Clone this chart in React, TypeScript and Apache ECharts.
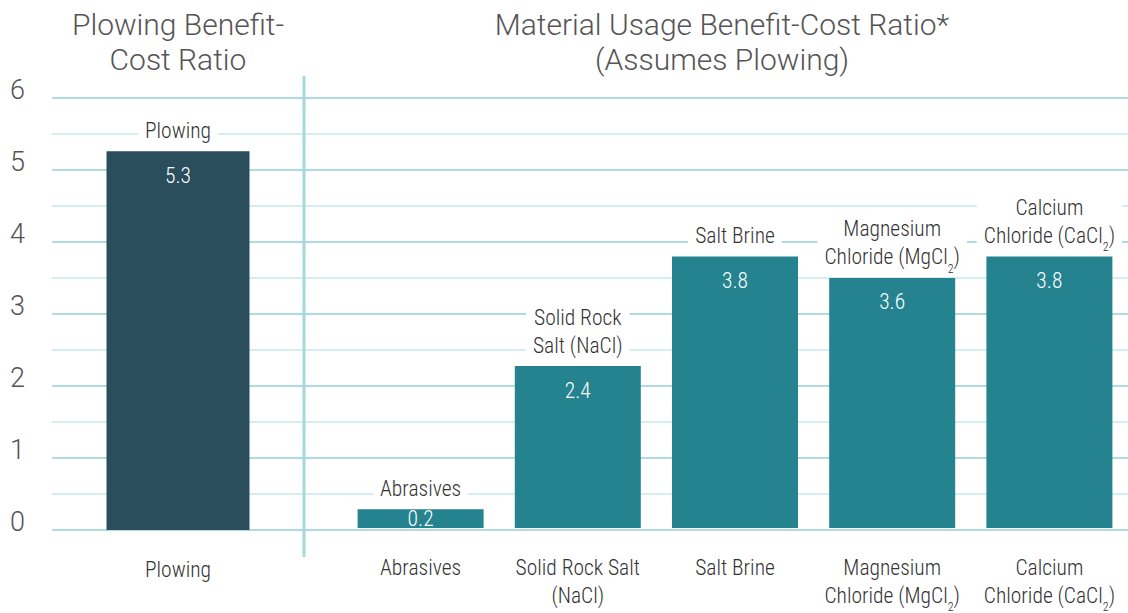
import React, { useEffect, useRef } from "react";
import * as echarts from "echarts";

const plowingCategory = ["Plowing"];
const plowingHeights = [5.26];
const plowingValueLabels = ["5.3"];
const plowingTopLabels = ["Plowing"];
const plowingAxisLabels = ["Plowing"];

const materialCategories = [
  "Abrasives",
  "Solid Rock Salt (NaCl)",
  "Salt Brine",
  "Magnesium Chloride (MgCl2)",
  "Calcium Chloride (CaCl2)",
];
const materialHeights = [0.26, 2.26, 3.79, 3.49, 3.79];
const materialValueLabels = ["0.2", "2.4", "3.8", "3.6", "3.8"];
const materialTopLabels = [
  "Abrasives",
  "Solid Rock\nSalt (NaCl)",
  "Salt Brine",
  "Magnesium\nChloride (MgCl_2)",
  "Calcium\nChloride (CaCl_2)",
];
const materialAxisLabels = [
  "Abrasives",
  "Solid Rock Salt\n(NaCl)",
  "Salt Brine",
  "Magnesium\nChloride (MgCl_2)",
  "Calcium\nChloride (CaCl_2)",
];

const leftTitle = "Plowing Benefit-\nCost Ratio";
const rightTitle = "Material Usage Benefit-Cost Ratio*\n(Assumes Plowing)";

const NARROW = "'Roboto Condensed', 'Liberation Sans Narrow', Roboto, sans-serif";
const LIGHT = "Roboto, 'Open Sans', sans-serif";
const TEXT = "#333333";
const DARK = "#2b4e5c";
const TEAL = "#25838f";
const FS = 21.5;
const FW = 300;

function toRich(s: string): string {
  return s
    .split("\n")
    .map((line) => {
      const parts = line.split(/_(\d)/);
      let out = "";
      parts.forEach((p, i) => {
        if (p === "") return;
        out += i % 2 === 1 ? `{sub|${p}}` : `{n|${p}}`;
      });
      return out;
    })
    .join("\n");
}

const richStyles = (color: string) => ({
  n: {
    fontSize: FS,
    lineHeight: 28,
    fontFamily: NARROW,
    fontWeight: FW,
    color,
    verticalAlign: "middle",
  },
  sub: {
    fontSize: 12,
    lineHeight: 12,
    fontFamily: NARROW,
    fontWeight: FW,
    color,
    verticalAlign: "top",
    padding: [20, 0, 0, 0],
  },
});

export default function App() {
  const ref = useRef<HTMLDivElement>(null);
  useEffect(() => {
    document.body.style.margin = "0";
    if (!ref.current) return;
    const chart = echarts.init(ref.current, undefined, { renderer: "svg" });

    const catAxis = (gridIndex: number, data: string[], labels: string[]) => ({
      type: "category",
      gridIndex,
      data,
      axisLine: { show: false },
      axisTick: { show: false },
      splitLine: { show: false },
      axisLabel: {
        interval: 0,
        margin: 25,
        formatter: (_v: string, i: number) => toRich(labels[i]),
        rich: richStyles(TEXT),
      },
    });

    const hiddenY = (gridIndex: number) => ({
      type: "value",
      gridIndex,
      min: 0,
      max: 6,
      show: false,
    });

    const valueSeries = (
      xi: number,
      heights: number[],
      labels: string[],
      color: string,
      width: number
    ) => ({
      type: "bar",
      xAxisIndex: xi,
      yAxisIndex: xi,
      barWidth: width,
      itemStyle: { color },
      data: heights.map((v) =>
        v < 0.5 ? { value: v, label: { position: "inside", distance: 0 } } : { value: v }
      ),
      label: {
        show: true,
        position: "insideTop",
        distance: 14,
        color: "#ffffff",
        fontSize: FS,
        fontWeight: FW,
        lineHeight: 20,
        fontFamily: NARROW,
        formatter: (p: any) => labels[p.dataIndex],
      },
      z: 3,
    });

    const nameSeries = (xi: number, heights: number[], labels: string[], width: number) => ({
      type: "bar",
      xAxisIndex: xi,
      yAxisIndex: xi,
      barWidth: width,
      barGap: "-100%",
      itemStyle: { color: "rgba(0,0,0,0)" },
      data: heights,
      silent: true,
      label: {
        show: true,
        position: "top",
        distance: 7,
        backgroundColor: "#ffffff",
        padding: [0, 7, 0, 7],
        formatter: (p: any) => toRich(labels[p.dataIndex]),
        rich: richStyles(TEXT),
      },
      z: 4,
    });

    chart.setOption({
      animation: false,
      grid: [
        { left: 52, right: 0, top: 98, height: 432 },
        { left: 52, width: 252, top: 98, height: 432 },
        { left: 342, width: 790, top: 98, height: 432 },
      ],
      xAxis: [
        { type: "value", gridIndex: 0, min: 0, max: 1, show: false },
        catAxis(1, plowingCategory, plowingAxisLabels),
        catAxis(2, materialCategories, materialAxisLabels),
      ],
      yAxis: [
        {
          type: "value",
          gridIndex: 0,
          min: 0,
          max: 6,
          interval: 0.5,
          axisLine: { show: false },
          axisTick: { show: false },
          axisLabel: {
            align: "left",
            margin: 42,
            verticalAlign: "middle",
            formatter: (v: number) => (Number.isInteger(v) ? `{y|${v}}` : ""),
            rich: {
              y: {
                fontSize: 27,
                lineHeight: 27,
                fontFamily: LIGHT,
                fontWeight: 300,
                color: "#555555",
                padding: [0, 0, 17, 0],
              },
            },
          },
          splitLine: {
            show: true,
            lineStyle: { color: ["#95d2d3", "#c6e7e8"], width: 1.5 },
          },
        },
        hiddenY(1),
        hiddenY(2),
      ],
      graphic: [
        {
          type: "line",
          shape: { x1: 304, y1: 76, x2: 304, y2: 557 },
          style: { stroke: "#a6d8d9", lineWidth: 3 },
          z: 1,
        },
        {
          type: "text",
          x: 178,
          y: 42,
          style: {
            text: leftTitle,
            align: "center",
            verticalAlign: "middle",
            fontSize: 30,
            lineHeight: 35,
            fontFamily: LIGHT,
            fontWeight: 300,
            fill: "#555555",
          },
        },
        {
          type: "text",
          x: 722,
          y: 42,
          style: {
            text: rightTitle,
            align: "center",
            verticalAlign: "middle",
            fontSize: 30,
            lineHeight: 35,
            fontFamily: LIGHT,
            fontWeight: 300,
            fill: "#555555",
          },
        },
      ],
      series: [
        valueSeries(1, plowingHeights, plowingValueLabels, DARK, 143),
        nameSeries(1, plowingHeights, plowingTopLabels, 143),
        valueSeries(2, materialHeights, materialValueLabels, TEAL, 126),
        nameSeries(2, materialHeights, materialTopLabels, 126),
      ],
    });
    return () => chart.dispose();
  }, []);
  return <div ref={ref} style={{ width: 1128, height: 613 }} />;
}
